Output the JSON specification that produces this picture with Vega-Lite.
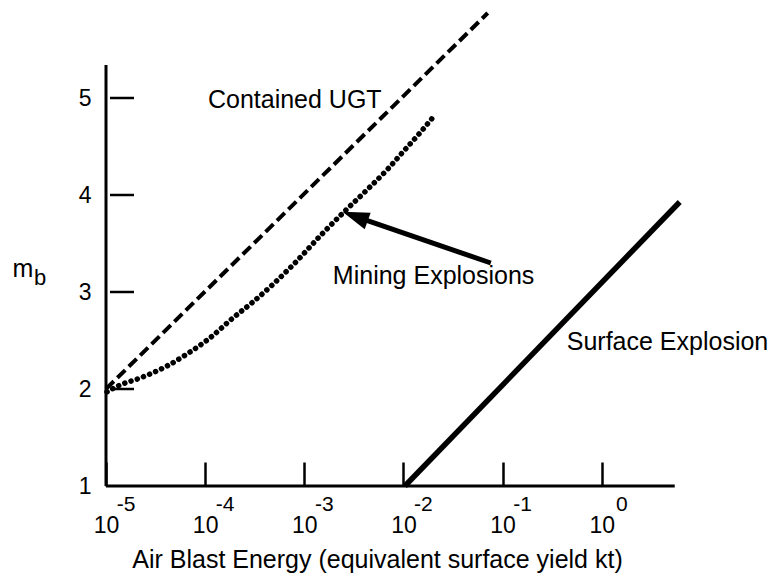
{
  "$schema": "https://vega.github.io/schema/vega-lite/v6.json",
  "width": 585,
  "height": 485,
  "autosize": {"type": "none"},
  "padding": {"left": 106, "top": 1, "right": 86, "bottom": 90},
  "config": {
    "font": "Liberation Sans",
    "view": {"stroke": null},
    "axis": {"grid": false, "domain": false}
  },
  "datasets": {
    "frame": [
      {"x": 0.00001, "y": 1, "x2": 0.00001, "y2": 5.34},
      {"x": 0.00001, "y": 1, "x2": 5.445, "y2": 1}
    ],
    "yticks": [
      {"x": 0.00001097, "x2": 0.00001915, "y": 2},
      {"x": 0.00001097, "x2": 0.00001915, "y": 3},
      {"x": 0.00001097, "x2": 0.00001915, "y": 4},
      {"x": 0.00001097, "x2": 0.00001915, "y": 5}
    ],
    "ugt": [
      {"x": 0.00001, "y": 2.0},
      {"x": 0.0708, "y": 5.876}
    ],
    "mining": [
      {"x": 0.00001023, "y": 1.97},
      {"x": 0.00001384, "y": 2.041},
      {"x": 0.00002203, "y": 2.113},
      {"x": 0.00004121, "y": 2.237},
      {"x": 0.00006561, "y": 2.361},
      {"x": 0.0001117, "y": 2.526},
      {"x": 0.0001905, "y": 2.732},
      {"x": 0.0003034, "y": 2.897},
      {"x": 0.0007674, "y": 3.278},
      {"x": 0.001542, "y": 3.608},
      {"x": 0.002449, "y": 3.814},
      {"x": 0.004276, "y": 4.052},
      {"x": 0.006808, "y": 4.258},
      {"x": 0.009863, "y": 4.443},
      {"x": 0.01462, "y": 4.639},
      {"x": 0.02075, "y": 4.825}
    ],
    "surface": [
      {"x": 0.01033, "y": 1.0},
      {"x": 6.11, "y": 3.928}
    ],
    "arrow": [
      {"x": 0.0760, "y": 3.299, "x2": 0.003251, "y2": 3.779}
    ],
    "head": [
      {"x": 0.003251, "y": 3.779}
    ],
    "labels": [
      {"x": 0.0001067, "y": 4.979, "t": "Contained UGT"},
      {"x": 0.001941, "y": 3.165, "t": "Mining Explosions"},
      {"x": 0.4436, "y": 2.485, "t": "Surface Explosion"}
    ],
    "exps": [
      {"x": 0.00001, "e": "-5"},
      {"x": 0.0001, "e": "-4"},
      {"x": 0.001, "e": "-3"},
      {"x": 0.01, "e": "-2"},
      {"x": 0.1, "e": "-1"},
      {"x": 1, "e": "0"}
    ],
    "ylab": [
      {"x": 0.00001, "y": 3}
    ]
  },
  "layer": [
    {
      "data": {"name": "frame"},
      "mark": {"type": "rule", "strokeWidth": 3, "color": "black"},
      "encoding": {
        "x": {
          "field": "x",
          "type": "quantitative",
          "scale": {"type": "log", "domain": [0.00001, 7.9433], "nice": false},
          "axis": {
            "values": [0.00001, 0.0001, 0.001, 0.01, 0.1, 1],
            "labelExpr": "'10'",
            "tickSize": -24,
            "tickWidth": 2.5,
            "tickColor": "black",
            "labelFontSize": 23,
            "labelColor": "black",
            "labelPadding": 52,
            "labelDx": -6,
            "labelFlush": false,
            "labelOverlap": false,
            "title": "Air Blast Energy (equivalent surface yield kt)",
            "titleFontSize": 25,
            "titleFontWeight": "normal",
            "titleColor": "black",
            "titleX": 271,
            "titleY": 73,
            "titleBaseline": "middle"
          }
        },
        "y": {
          "field": "y",
          "type": "quantitative",
          "scale": {"domain": [1, 6], "nice": false, "zero": false},
          "axis": {
            "values": [1, 2, 3, 4, 5],
            "format": "d",
            "ticks": false,
            "labelFontSize": 23,
            "labelColor": "black",
            "labelPadding": 15,
            "labelFlush": false,
            "title": null
          }
        },
        "x2": {"field": "x2"},
        "y2": {"field": "y2"}
      }
    },
    {
      "data": {"name": "yticks"},
      "mark": {"type": "rule", "strokeWidth": 2.5, "color": "black"},
      "encoding": {
        "x": {"field": "x", "type": "quantitative"},
        "x2": {"field": "x2"},
        "y": {"field": "y", "type": "quantitative"}
      }
    },
    {
      "data": {"name": "ugt"},
      "mark": {"type": "line", "color": "black", "strokeWidth": 4, "strokeDash": [11, 5]},
      "encoding": {
        "x": {"field": "x", "type": "quantitative"},
        "y": {"field": "y", "type": "quantitative"}
      }
    },
    {
      "data": {"name": "mining"},
      "mark": {"type": "line", "color": "black", "strokeWidth": 5.5, "strokeDash": [0.1, 6.5], "strokeCap": "round", "interpolate": "monotone"},
      "encoding": {
        "x": {"field": "x", "type": "quantitative"},
        "y": {"field": "y", "type": "quantitative"}
      }
    },
    {
      "data": {"name": "surface"},
      "mark": {"type": "line", "color": "black", "strokeWidth": 5.5},
      "encoding": {
        "x": {"field": "x", "type": "quantitative"},
        "y": {"field": "y", "type": "quantitative"}
      }
    },
    {
      "data": {"name": "arrow"},
      "mark": {"type": "rule", "color": "black", "strokeWidth": 5},
      "encoding": {
        "x": {"field": "x", "type": "quantitative"},
        "y": {"field": "y", "type": "quantitative"},
        "x2": {"field": "x2"},
        "y2": {"field": "y2"}
      }
    },
    {
      "data": {"name": "head"},
      "mark": {"type": "point", "shape": "M0,-1L0.65,1L-0.65,1Z", "size": 720, "angle": 290, "filled": true, "color": "black", "opacity": 1},
      "encoding": {
        "x": {"field": "x", "type": "quantitative"},
        "y": {"field": "y", "type": "quantitative"}
      }
    },
    {
      "data": {"name": "labels"},
      "mark": {"type": "text", "align": "left", "baseline": "middle", "fontSize": 25, "color": "black"},
      "encoding": {
        "x": {"field": "x", "type": "quantitative"},
        "y": {"field": "y", "type": "quantitative"},
        "text": {"field": "t"}
      }
    },
    {
      "data": {"name": "exps"},
      "mark": {"type": "text", "align": "center", "baseline": "middle", "fontSize": 21, "color": "black", "dx": 20, "dy": 19},
      "encoding": {
        "x": {"field": "x", "type": "quantitative"},
        "y": {"datum": 1, "type": "quantitative"},
        "text": {"field": "e"}
      }
    },
    {
      "data": {"name": "ylab"},
      "mark": {"type": "text", "align": "center", "baseline": "middle", "fontSize": 25, "color": "black", "dx": -83, "dy": -23},
      "encoding": {
        "x": {"field": "x", "type": "quantitative"},
        "y": {"field": "y", "type": "quantitative"},
        "text": {"value": "m"}
      }
    },
    {
      "data": {"name": "ylab"},
      "mark": {"type": "text", "align": "center", "baseline": "middle", "fontSize": 22, "color": "black", "dx": -66, "dy": -14},
      "encoding": {
        "x": {"field": "x", "type": "quantitative"},
        "y": {"field": "y", "type": "quantitative"},
        "text": {"value": "b"}
      }
    }
  ]
}
